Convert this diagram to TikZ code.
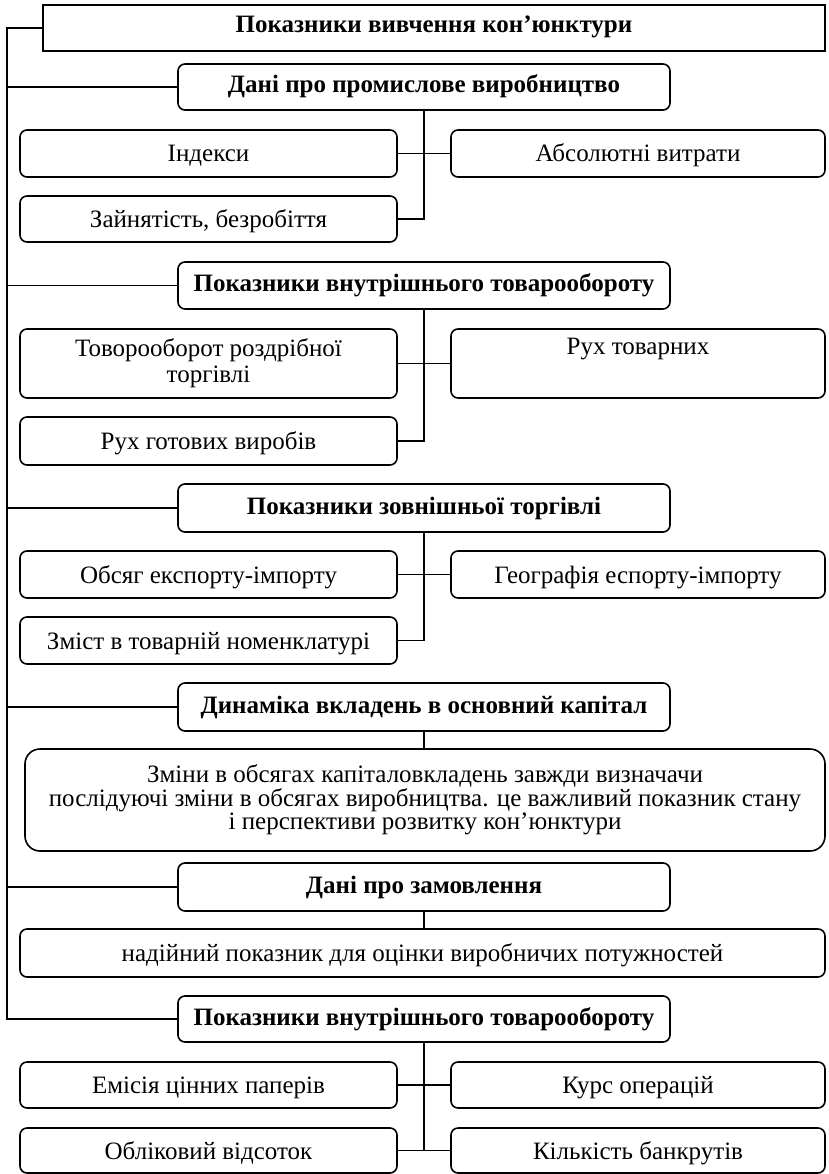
\documentclass[tikz,border=0pt]{standalone}
\usepackage{fontspec}
\setmainfont{Liberation Serif}
\begin{document}
\begin{tikzpicture}[x=1pt,y=-1pt,
  every node/.style={font=\fontsize{25}{26}\selectfont, inner sep=0pt, align=center},
  hdr/.style={draw, line width=1.6pt, rounded corners=7pt, minimum width=492pt, minimum height=46pt, text height=18pt, text depth=6pt, font=\fontsize{25}{26}\selectfont\bfseries},
  frame/.style={draw, line width=1.6pt, rounded corners=7pt, minimum width=377pt, minimum height=47pt},
  sbox/.style={frame, text height=20pt, text depth=3pt},
  rbox/.style={sbox, minimum width=374pt},
  conn/.style={line width=1.3pt}]
\useasboundingbox (0,0) rectangle (828,1174);
% top
\node[draw, line width=1.6pt, minimum width=782pt, minimum height=46pt, text height=18pt, text depth=8pt, font=\fontsize{25}{26}\selectfont\bfseries] (top) at (434,28) {Показники вивчення кон’юнктури};
\coordinate (sp) at (7,28);
% section 1
\node[hdr] (h1) at (424,87) {Дані про промислове виробництво};
\node[sbox] (a1) at (208.5,153.5) {Індекси};
\node[rbox] (b1) at (638,153.5) {Абсолютні витрати};
\node[sbox, minimum height=46pt] (a2) at (208.5,219) {Зайнятість, безробіття};
% section 2
\node[hdr, minimum height=47pt] (h2) at (424,285.5) {Показники внутрішнього товарообороту};
\node[frame, minimum height=69pt] (a3) at (208.5,363.5) {Товорооборот роздрібної\\торгівлі};
\node[frame, minimum width=374pt, minimum height=69pt] (b3) at (638,363.5) {Рух товарних\\\strut};
\node[sbox, minimum height=48pt] (a4) at (208.5,441) {Рух готових виробів};
% section 3
\node[hdr, minimum height=48pt] (h3) at (424,508) {Показники зовнішньої торгівлі};
\node[sbox] (a5) at (208.5,574.5) {Обсяг експорту-імпорту};
\node[rbox] (b5) at (638,574.5) {Географія еспорту-імпорту};
\node[sbox] (a6) at (208.5,640.5) {Зміст в товарній номенклатурі};
% section 4
\node[hdr, minimum height=48pt] (h4) at (424,707) {Динаміка вкладень в основний капітал};
\node[draw, line width=1.6pt, rounded corners=15pt, minimum width=800pt, minimum height=102pt, font=\fontsize{25}{23.5}\selectfont] (c4) at (425,800) {Зміни в обсягах капіталовкладень завжди визначачи\\послідуючі зміни в обсягах виробництва. це важливий показник стану\\і перспективи розвитку кон’юнктури};
% section 5
\node[hdr, minimum height=48pt] (h5) at (424,887) {Дані про замовлення};
\node[sbox, minimum width=805pt, minimum height=48pt] (c5) at (422.5,953) {надійний показник для оцінки виробничих потужностей};
% section 6
\node[hdr] (h6) at (424,1019) {Показники внутрішнього товарообороту};
\node[sbox, minimum height=46pt] (a7) at (208.5,1085) {Емісія цінних паперів};
\node[rbox, minimum height=46pt] (b7) at (638,1085) {Курс операцій};
\node[sbox, minimum height=45pt] (a8) at (208.5,1150.5) {Обліковий відсоток};
\node[rbox, minimum height=45pt] (b8) at (638,1150.5) {Кількість банкрутів};
% spine
\draw[conn] (top.west) -- (sp) |- (h6.west);
\foreach \h in {h1,h2,h3,h4,h5} \draw[conn] (\h.west) -- (\h.west -| sp);
% section connectors
\draw[conn] (h1.south) -- (h1.south |- a2.east) -- (a2.east);
\draw[conn] (a1.east) -- (b1.west);
\draw[conn] (h2.south) -- (h2.south |- a4.east) -- (a4.east);
\draw[conn] (a3.east) -- (b3.west);
\draw[conn] (h3.south) -- (h3.south |- a6.east) -- (a6.east);
\draw[conn] (a5.east) -- (b5.west);
\draw[conn] (h4.south) -- (h4.south |- c4.north);
\draw[conn] (h5.south) -- (h5.south |- c5.north);
\draw[conn] (h6.south) -- (h6.south |- a8.east) -- (a8.east);
\draw[conn] (a7.east) -- (b7.west);
\draw[conn] (a8.east) -- (b8.west);
\end{tikzpicture}
\end{document}
